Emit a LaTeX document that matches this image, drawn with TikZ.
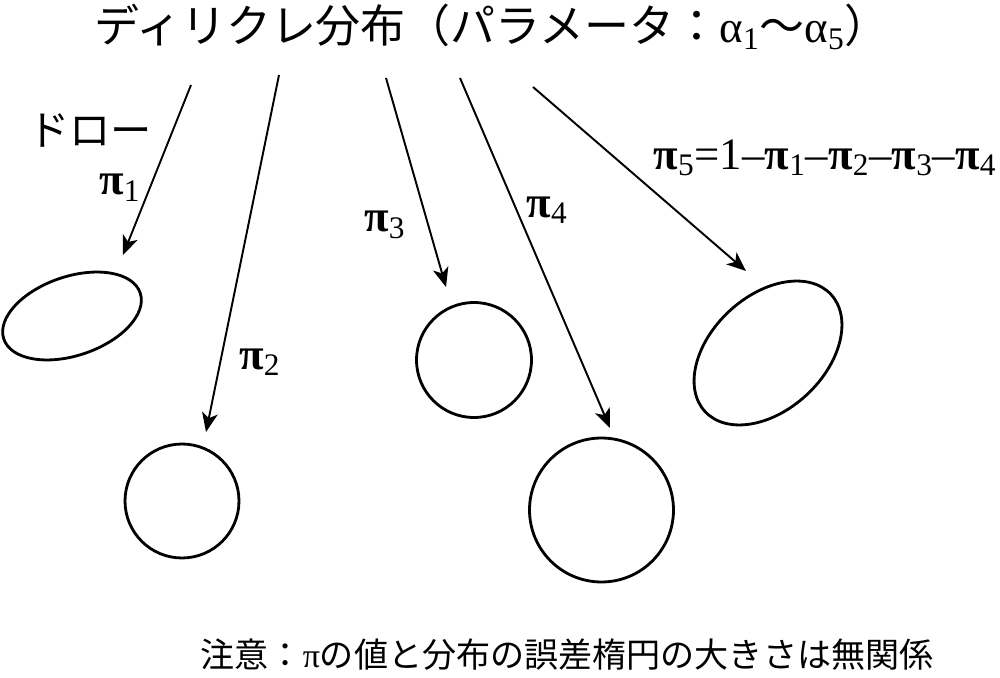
\documentclass[tikz,border=0pt]{standalone}
\usepackage{fontspec}
\setmainfont{Liberation Serif}
\newfontfamily\jp{Noto Sans CJK JP}
\usetikzlibrary{arrows.meta,shapes.geometric}
\begin{document}
\begin{tikzpicture}[x=0.02cm,y=-0.02cm,
  blob/.style={draw,line width=1.6pt,ellipse,inner sep=0pt,outer sep=0pt},
  drawarrow/.style={line width=1.1pt,-{Stealth[length=11pt,width=9pt,inset=3pt]}},
  pilabel/.style={font=\fontsize{25.5}{30}\selectfont,inner sep=0pt},
  jptext/.style={inner sep=0pt},
  ]
\useasboundingbox (0,0) rectangle (1000,678);
% texts
\node[jptext,font=\fontsize{25.6}{30}\selectfont] (title) at (492,27)
  {{\jp ディリクレ分布（パラメータ：}α\textsubscript{1}{\jp ～}α\textsubscript{5}{\jp ）}};
\node[jptext,font=\fontsize{23.5}{28}\selectfont] (draw) at (90,130) {\jp ドロー};
\node[pilabel] (p1) at (120,188) {{\bfseries π}\textsubscript{1}};
\node[pilabel] (p2) at (260,362) {{\bfseries π}\textsubscript{2}};
\node[pilabel] (p3) at (385,225) {{\bfseries π}\textsubscript{3}};
\node[pilabel] (p4) at (547,210) {{\bfseries π}\textsubscript{4}};
\node[pilabel] (p5) at (825,158) {{\bfseries π}\textsubscript{5}=1–{\bfseries π}\textsubscript{1}–{\bfseries π}\textsubscript{2}–{\bfseries π}\textsubscript{3}–{\bfseries π}\textsubscript{4}};
\node[jptext,font=\fontsize{19.4}{23}\selectfont] (note) at (567,655)
  {{\jp 注意：}π{\jp の値と分布の誤差楕円の大きさは無関係}};
% ellipses
\node[blob,minimum width=2.88cm,minimum height=1.58cm,rotate=18.7] (e1) at (72,316) {};
\node[blob,minimum width=2.28cm,minimum height=2.28cm] (e2) at (182,501) {};
\node[blob,minimum width=2.30cm,minimum height=2.30cm] (e3) at (474,360) {};
\node[blob,minimum width=2.88cm,minimum height=2.88cm] (e4) at (601.5,510) {};
\node[blob,minimum width=3.44cm,minimum height=2.28cm,rotate=43] (e5) at (768,353) {};
% arrow ends
\coordinate (s1) at (191,85);  \coordinate (t1) at (123,255);
\coordinate (s2) at (279,75);  \coordinate (t2) at (206,432);
\coordinate (s3) at (386,78);  \coordinate (t3) at (446,287);
\coordinate (s4) at (460,78);  \coordinate (t4) at (610,428);
\coordinate (s5) at (533,87);  \coordinate (t5) at (746,271);
\draw[drawarrow] (s1) -- (t1);
\draw[drawarrow] (s2) -- (t2);
\draw[drawarrow] (s3) -- (t3);
\draw[drawarrow] (s4) -- (t4);
\draw[drawarrow] (s5) -- (t5);
\end{tikzpicture}
\end{document}
